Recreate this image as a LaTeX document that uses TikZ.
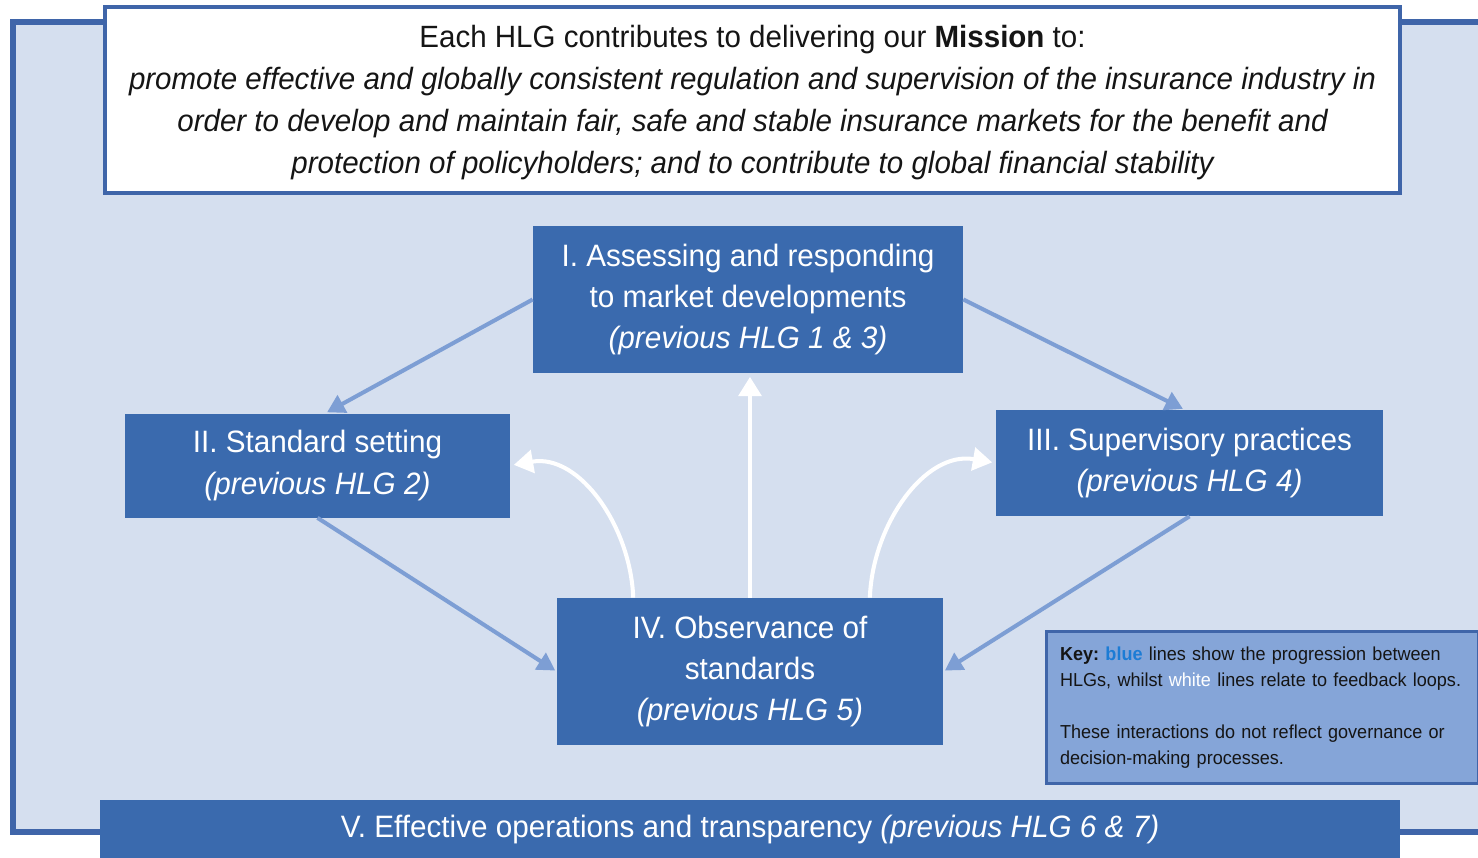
\documentclass[tikz,border=0pt]{standalone}
\usepackage{fontspec}
\setmainfont{Liberation Sans}[FakeStretch=0.96]
\usetikzlibrary{arrows.meta,calc}
\frenchspacing

\definecolor{panel}{HTML}{D5DFEF}
\definecolor{edge}{HTML}{3F65A9}
\definecolor{boxblue}{HTML}{3A6AAE}
\definecolor{flow}{HTML}{7D9ED4}
\definecolor{keyfill}{HTML}{85A5D8}
\definecolor{keyblue}{HTML}{1C7CD5}
\definecolor{ink}{HTML}{151515}

\begin{document}
\begin{tikzpicture}[x=0.02cm,y=-0.02cm,
  hlg/.style={fill=boxblue, text=white, align=center, inner sep=0pt,
    font=\fontsize{17.6}{23.4}\selectfont},
  flowline/.style={draw=flow, line width=2.3pt,
    -{Triangle[length=10pt,width=11pt]}, shorten >=1pt},
  feedback/.style={draw=white, line width=2.3pt,
    -{Triangle[length=11pt,width=13pt]}, shorten >=2pt}
]
\clip (0,0) rectangle (1478,858);

% outer panel
\draw[fill=panel, draw=edge, line width=3.4pt] (13,22) rectangle (1520,832);

% mission statement
\node[draw=edge, fill=white, line width=2.3pt,
  minimum width=1295*0.02cm, minimum height=186*0.02cm, inner sep=0pt]
  (mission) at (752.5,100) {};
\node[text=ink, align=center, inner sep=0pt,
  font=\fontsize{17.5}{23.9}\selectfont] (missiontext) at ([yshift=-0.06cm]mission.center)
  {Each HLG contributes to delivering our \textbf{Mission} to:\\
   \itshape promote effective and globally consistent regulation and supervision of the insurance industry in\\
   \itshape order to develop and maintain fair, safe and stable insurance markets for the benefit and\\
   \itshape protection of policyholders; and to contribute to global financial stability};

% high level goals
\node[hlg, minimum width=430*0.02cm, minimum height=147*0.02cm] (I) at (748,299.5)
  {I. Assessing and responding\\to market developments\\\itshape(previous HLG 1 \& 3)};
\node[hlg, minimum width=385*0.02cm, minimum height=104*0.02cm] (II) at (317.5,465.5)
  {II. Standard setting\\\itshape(previous HLG 2)};
\node[hlg, minimum width=387*0.02cm, minimum height=106*0.02cm] (III) at (1189.5,463)
  {III. Supervisory practices\\\itshape(previous HLG 4)};
\node[hlg, minimum width=386*0.02cm, minimum height=147*0.02cm] (IV) at (750,671.5)
  {IV. Observance of\\standards\\\itshape(previous HLG 5)};
\node[hlg, minimum width=1300*0.02cm, minimum height=59*0.02cm] (V) at (750,829.5)
  {V. Effective operations and transparency \textit{(previous HLG 6 \& 7)}};

% progression between goals
\draw[flowline] (I.west) -- ([xshift=0.16cm]II.north);
\draw[flowline] (I.east) -- ([xshift=-0.1cm]III.north);
\draw[flowline] (II.south) -- (IV.west);
\draw[flowline] (III.south) -- (IV.east);

% feedback loops
\coordinate (fbL) at ($(IV.north west)!0.198!(IV.north east)$);
\coordinate (fbR) at ($(IV.north west)!0.81!(IV.north east)$);
\draw[feedback] (IV.north) -- (IV.north |- I.south);
\draw[feedback] (fbL) to[out=92, in=10] (II.east);
\draw[feedback] (fbR) to[out=88, in=170] (III.west);

% key
\node[draw=edge, fill=keyfill, line width=1.8pt, text=ink, align=left,
  anchor=north west, minimum width=432*0.02cm, minimum height=152*0.02cm,
  text width=405*0.02cm, inner xsep=13*0.02cm, inner ysep=0pt,
  font=\fontsize{10.7}{14.8}\selectfont] (key) at (1045,630)
  {\textbf{Key:} \textcolor{keyblue}{\textbf{blue}} lines show the progression between\\
   HLGs, whilst \textcolor{white}{white} lines relate to feedback loops.\\[14.8pt]
   These interactions do not reflect governance or\\
   decision-making processes.};
\end{tikzpicture}
\end{document}
